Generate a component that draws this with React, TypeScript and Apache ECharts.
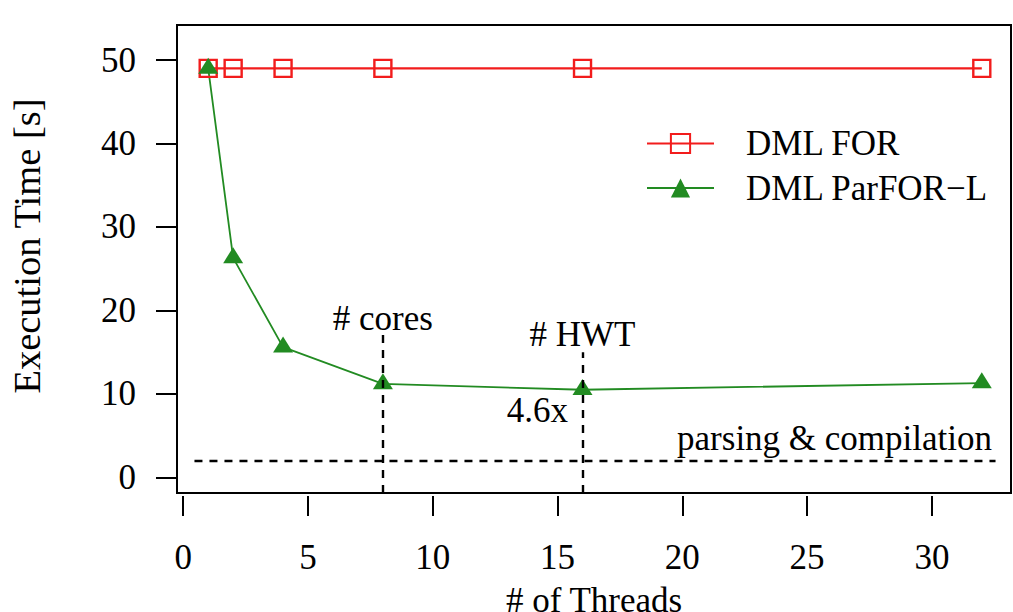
import React, { useEffect, useRef } from "react";
import * as echarts from "echarts";

const threads = [1, 2, 4, 8, 16, 32];
const dmlFor = [49, 49, 49, 49, 49, 49];
const dmlParFor = [49, 26.3, 15.6, 11.2, 10.5, 11.3];
const xTicks = [0, 5, 10, 15, 20, 25, 30];
const yTicks = [0, 10, 20, 30, 40, 50];
const parsingLevel = 2;
const vLines = [
  { x: 8, top: 17.3 },
  { x: 16, top: 15.0 },
];
const annotations = [
  { text: "# cores", x: 8, y: 19, align: "center" },
  { text: "# HWT", x: 16, y: 17.1, align: "center" },
  { text: "4.6x", x: 15.42, y: 8, align: "right" },
  { text: "parsing & compilation", x: 32.41, y: 4.7, align: "right" },
];

const RED = "#F21C1C";
const GREEN = "#228B22";
const FONT = "'Liberation Serif', 'Times New Roman', serif";
const FS = 35;
const X_MIN = -0.25, X_MAX = 33.17, Y_MIN = -1.87, Y_MAX = 54.2;

export default function App() {
  const ref = useRef<HTMLDivElement>(null);
  useEffect(() => {
    const chart = echarts.init(ref.current!, undefined, { renderer: "svg" });
    const option: any = {
      animation: false,
      textStyle: { fontFamily: FONT, color: "#000" },
      grid: {
        show: true,
        left: 177,
        right: 2,
        top: 25,
        bottom: 119,
        containLabel: false,
        outerBoundsMode: "none",
        borderColor: "#000",
        borderWidth: 2,
        backgroundColor: "transparent",
      },
      xAxis: {
        type: "value",
        min: X_MIN,
        max: X_MAX,
        offset: 3,
        name: "# of Threads",
        nameLocation: "middle",
        nameGap: 86.7,
        nameTextStyle: { fontSize: FS, fontFamily: FONT, color: "#000" },
        axisLine: { show: false, onZero: false },
        splitLine: { show: false },
        axisTick: { show: true, length: 20, customValues: xTicks, lineStyle: { color: "#000", width: 2 } },
        axisLabel: { customValues: xTicks, fontSize: FS, fontFamily: FONT, color: "#000", margin: 43.7 },
      },
      yAxis: {
        type: "value",
        min: Y_MIN,
        max: Y_MAX,
        name: "Execution Time [s]",
        nameLocation: "middle",
        nameGap: 131,
        nameTextStyle: { fontSize: 38.5, fontFamily: FONT, color: "#000", padding: [0, 0, 0, 26] },
        axisLine: { show: false, onZero: false },
        splitLine: { show: false },
        axisTick: { show: true, length: 21, customValues: yTicks, lineStyle: { color: "#000", width: 2 } },
        axisLabel: { customValues: yTicks, fontSize: FS, fontFamily: FONT, color: "#000", margin: 41 },
      },
      legend: {
        orient: "vertical",
        left: 646,
        top: 126,
        padding: 0,
        itemWidth: 67,
        itemHeight: 24,
        itemGap: 9.5,
        formatter: (name: string) => `{pad| }{t|${name}}`,
        textStyle: {
          fontSize: FS,
          fontFamily: FONT,
          color: "#000",
          rich: {
            pad: { width: 27, fontSize: FS, fontFamily: FONT },
            t: { fontSize: FS, fontFamily: FONT, color: "#000" },
          },
        },
        data: ["DML FOR", "DML ParFOR\u2212L"],
      },
      series: [
        {
          name: "DML FOR",
          type: "line",
          data: threads.map((t, i) => [t, dmlFor[i]]),
          symbol: "rect",
          symbolSize: 17,
          lineStyle: { color: RED, width: 2.4 },
          itemStyle: { color: "rgba(0,0,0,0)", borderColor: RED, borderWidth: 2.4 },
        },
        {
          name: "DML ParFOR\u2212L",
          type: "line",
          data: threads.map((t, i) => [t, dmlParFor[i]]),
          symbol: "triangle",
          symbolSize: [20, 16],
          symbolOffset: [0, -2.7],
          lineStyle: { color: GREEN, width: 1.8 },
          itemStyle: { color: GREEN },
          markLine: {
            silent: true,
            symbol: ["none", "none"],
            label: { show: false },
            lineStyle: { color: "#000", width: 2.4, type: [8, 7] },
            data: [
              [{ coord: [0.45, parsingLevel] }, { coord: [32.55, parsingLevel] }],
              ...vLines.map((v) => [{ coord: [v.x, Y_MIN] }, { coord: [v.x, v.top] }]),
            ],
          },
        },
      ],
    };
    chart.setOption(option);
    const graphic = annotations.map((a) => {
      const p = chart.convertToPixel({ gridIndex: 0 }, [a.x, a.y]) as number[];
      return {
        type: "text",
        x: p[0],
        y: p[1],
        style: {
          text: a.text,
          fontSize: FS,
          fontFamily: FONT,
          fill: "#000",
          align: a.align,
          verticalAlign: "middle",
        },
      };
    });
    chart.setOption({ graphic });
    return () => chart.dispose();
  }, []);
  return (
    <div
      ref={ref}
      style={{ position: "absolute", left: 0, top: 0, width: 1013, height: 612 }}
    />
  );
}
